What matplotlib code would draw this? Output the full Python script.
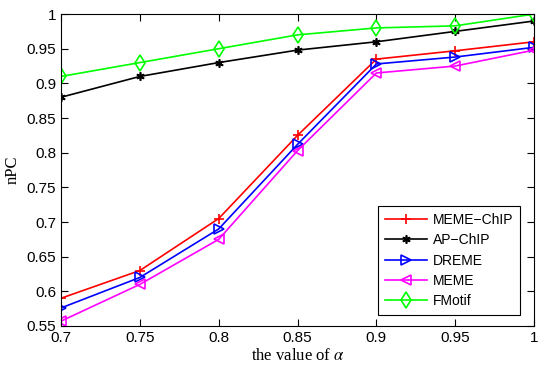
import matplotlib
matplotlib.use("Agg")
import matplotlib.pyplot as plt

alpha = [0.7, 0.75, 0.8, 0.85, 0.9, 0.95, 1.0]
meme_chip = [0.590, 0.630, 0.705, 0.825, 0.935, 0.947, 0.960]
ap_chip = [0.880, 0.910, 0.930, 0.948, 0.960, 0.975, 0.990]
dreme = [0.576, 0.620, 0.690, 0.812, 0.928, 0.938, 0.952]
meme = [0.557, 0.610, 0.675, 0.803, 0.915, 0.925, 0.948]
fmotif = [0.910, 0.930, 0.950, 0.970, 0.980, 0.983, 1.000]
xticks = [0.7, 0.75, 0.8, 0.85, 0.9, 0.95, 1]
xticklabels = ["0.7", "0.75", "0.8", "0.85", "0.9", "0.95", "1"]
yticks = [0.55, 0.6, 0.65, 0.7, 0.75, 0.8, 0.85, 0.9, 0.95, 1]
yticklabels = ["0.55", "0.6", "0.65", "0.7", "0.75", "0.8", "0.85", "0.9", "0.95", "1"]

plt.rcParams['font.family'] = ['Liberation Sans', 'DejaVu Sans']
plt.rcParams['mathtext.fontset'] = 'stix'

fig = plt.figure(figsize=(5.5, 3.7), dpi=100)
ax = fig.add_axes([0.111, 0.119, 0.860, 0.843])

lw = 1.2
ax.plot(alpha, meme_chip, color='#ff0000', marker='+', ms=7, mew=1.2, lw=lw, label='MEME\u2212ChIP')
ax.plot(alpha, ap_chip, color='black', marker=(6, 2, 0), ms=6, mew=1.2, lw=lw, label='AP\u2212ChIP')
ax.plot(alpha, dreme, color='#0000ff', marker='>', ms=7, mfc='none', mew=1.2, lw=lw, label='DREME')
ax.plot(alpha, meme, color='#ff00ff', marker='<', ms=7, mfc='none', mew=1.2, lw=lw, label='MEME')
ax.plot(alpha, fmotif, color='#00ff00', marker='d', ms=8, mfc='none', mew=1.2, lw=lw, label='FMotif')

ax.set_xlim(0.7, 1.0)
ax.set_ylim(0.55, 1.0)
ax.set_xticks(xticks)
ax.set_xticklabels(xticklabels)
ax.set_yticks(yticks)
ax.set_yticklabels(yticklabels)
ax.tick_params(direction='in', top=True, right=True, labelsize=11, length=5, width=0.8)
for s in ax.spines.values():
    s.set_linewidth(0.8)

ax.set_xlabel(r'the value of $\alpha$', fontsize=12, family='Liberation Serif', labelpad=2)
ax.set_ylabel('nPC', fontsize=12, family='Liberation Serif', labelpad=4)

leg = ax.legend(loc='lower right', fontsize=10, fancybox=False, edgecolor='black',
                handlelength=3.0, handletextpad=0.4, borderpad=0.5, labelspacing=0.45,
                framealpha=1, bbox_to_anchor=(0.985, 0.013))
leg.get_frame().set_linewidth(0.8)

fig.savefig('out.png', dpi=100)
